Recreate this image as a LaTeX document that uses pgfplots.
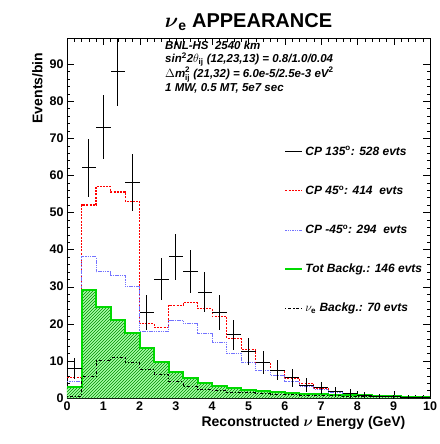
\documentclass[border=0pt]{standalone}
\usepackage{fontspec}
\setmainfont{Liberation Sans}
\usepackage{amsmath}
\usepackage{pgfplots}
\pgfplotsset{compat=1.18}
\usetikzlibrary{patterns}
\pgfplotstableread{
x y
0 3
0.4 3
0.8 29
1.2 24.5
1.6 21
2.0 17.5
2.4 13.5
2.8 9.7
3.2 7
3.6 5.4
4.0 4
4.4 3.2
4.8 2.6
5.2 2.2
5.6 1.9
6.0 1.6
6.4 1.4
6.8 1.2
7.2 1.0
7.6 0.9
8.0 0.8
8.4 0.7
8.8 0.6
9.2 0.5
9.6 0.4
10 0.3
}\bkg
\begin{document}
\begin{tikzpicture}
\begin{axis}[scale only axis, width=363pt, height=360pt, at={(0,0)}, anchor=south west,
 xmin=0, xmax=10, ymin=0, ymax=97,
 xtick={0,...,10}, ytick={0,10,...,90},
 minor x tick num=4, minor y tick num=4,
 tick align=inside, tick style={black}, major tick length=7pt, minor tick length=3.5pt,
 /pgf/number format/assume math mode=true,
 ticklabel style={font=\bfseries\fontsize{12.5}{14}\selectfont},
 xlabel={\bfseries\fontsize{14}{16}\selectfont Reconstructed $\boldsymbol{\nu}$ Energy (GeV)}, ylabel={\bfseries\fontsize{14}{16}\selectfont Events/bin},
 xlabel style={yshift=1pt, xshift=55pt}, ylabel style={yshift=0pt, xshift=130pt},
 title={\bfseries\fontsize{20}{22}\selectfont $\boldsymbol{\nu}_{\mathbf e}$ APPEARANCE}, title style={yshift=-2pt},
 legend style={draw=none, fill=none, at={(0.59,0.71)}, anchor=north west, row sep=25pt, font=\bfseries\itshape\fontsize{12}{14}\selectfont},
 legend cell align=left]
\addplot[forget plot, const plot mark right, draw=none, fill=green!35] table {\bkg} \closedcycle;
\addplot[forget plot, const plot mark right, draw=none, pattern=north east lines, pattern color=green!55!black] table {\bkg} \closedcycle;
\addlegendimage{black, thick}
\addplot[const plot mark right, red, dash pattern=on 2pt off 1.2pt, line width=1.1pt] table {
x y
0 5.5
0.4 5.5
0.8 52
1.2 57
1.6 55.5
2.0 53
2.4 20
2.8 19
3.2 25
3.6 25.7
4.0 24
4.4 22
4.8 16
5.2 13
5.6 9.5
6.0 7.5
6.4 5.4
6.8 4
7.2 2.7
7.6 1.7
8.0 1.2
8.4 0.8
8.8 0.5
9.2 0.3
9.6 0.2
10 0.1
};
\addplot[const plot mark right, blue!55, dash pattern=on 1.5pt off 0.8pt, line width=1pt] table {
x y
0 4.5
0.4 4.5
0.8 38
1.2 34
1.6 33
2.0 30
2.4 18
2.8 18
3.2 21
3.6 20
4.0 17.5
4.4 15
4.8 12
5.2 9.5
5.6 7.5
6.0 6
6.4 4.5
6.8 3.2
7.2 2.3
7.6 1.5
8.0 1.0
8.4 0.7
8.8 0.5
9.2 0.3
9.6 0.2
10 0.1
};
\addplot[const plot mark right, draw=green!85!black, line width=2pt] table {\bkg};
\addplot[const plot mark right, black, dash pattern=on 1pt off 2pt on 3pt off 2pt, line width=1pt] table {
x y
0 0.5
0.4 0.5
0.8 5.7
1.2 10
1.6 10.8
2.0 9.5
2.4 7.6
2.8 6.2
3.2 4.4
3.6 3.0
4.0 2.3
4.4 1.9
4.8 1.6
5.2 1.4
5.6 1.2
6.0 1.0
6.4 0.9
6.8 0.8
7.2 0.7
7.6 0.6
8.0 0.5
8.4 0.4
8.8 0.35
9.2 0.3
9.6 0.25
10 0.2
};
\addplot[forget plot, draw=none, mark=none, black, error bars/.cd, x dir=both, x explicit, y dir=both, y explicit, error mark=none, error bar style={black, line width=1pt}] table[x error=ex, y error=ey] {
x y ex ey
0.2 8 0.2 2.83
0.6 62 0.2 7.87
1.0 73 0.2 8.54
1.4 88 0.2 9.38
1.8 58 0.2 7.62
2.2 23 0.2 4.80
2.6 32 0.2 5.66
3.0 38 0.2 6.16
3.4 34 0.2 5.83
3.8 28.5 0.2 5.34
4.2 23 0.2 4.80
4.6 17 0.2 4.12
5.0 12.5 0.2 3.54
5.4 9.5 0.2 3.08
5.8 7.5 0.2 2.74
6.2 5.4 0.2 2.32
6.6 3.5 0.2 1.87
7.0 2.7 0.2 1.64
7.4 1.7 0.2 1.30
7.8 1.2 0.2 1.10
8.2 0.8 0.2 0.89
8.6 0.5 0.2 0.71
9.0 0.3 0.2 0.55
9.4 0.2 0.2 0.45
9.8 0.1 0.2 0.32
};
\legend{{CP 135$^{\mathbf o}$: 528 evts},{CP 45$^{\mathbf o}$: 414\ \ evts},{CP -45$^{\mathbf o}$: 294\ \ evts},{Tot Backg.: 146 evts},{$\nu_{\mathbf e}$ Backg.: 70 evts}}
\node[anchor=north west, align=left, font=\bfseries\itshape\fontsize{11.5}{13.5}\selectfont, inner sep=0pt] at (axis cs:2.7,96.3) {BNL-HS\ \ 2540 km\\ sin$^{\mathbf 2}$2$\theta_{\mathbf{ij}}$ (12,23,13) = 0.8/1.0/0.04\\[1pt] $\Delta$m$_{\mathbf{ij}}^{\mathbf 2}$ (21,32) = 6.0e-5/2.5e-3 eV$^{\mathbf 2}$\\[1pt] 1 MW, 0.5 MT, 5e7 sec};
\end{axis}
\pgfresetboundingbox
\path (-67pt,-46pt) rectangle (372pt,398pt);
\end{tikzpicture}
\end{document}
